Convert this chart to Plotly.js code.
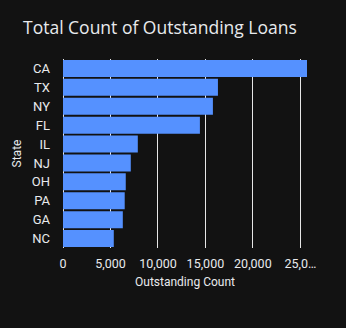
<!DOCTYPE html>
<html>
<head>
<meta charset="utf-8">
<script src="https://cdn.plot.ly/plotly-3.0.1.min.js"></script>
<style>
html,body{margin:0;padding:0;background:#121212;}
#chart{width:346px;height:328px;}
</style>
</head>
<body>
<div id="chart"></div>
<script>
const states = ['CA','TX','NY','FL','IL','NJ','OH','PA','GA','NC'];
const outstandingCount = [25700, 16320, 15790, 14420, 7880, 7140, 6610, 6500, 6300, 5350];
const xTickVals = [0, 5000, 10000, 15000, 20000, 25000];
const xTickText = ['0', '5,000', '10,000', '15,000', '20,000', '25,0…'];

const trace = {
  type: 'bar',
  orientation: 'h',
  y: states,
  x: outstandingCount,
  marker: {color: '#5591ff'},
  hoverinfo: 'x+y'
};

const layout = {
  width: 346,
  height: 328,
  paper_bgcolor: '#121212',
  plot_bgcolor: '#121212',
  margin: {l: 63, r: 39, t: 59, b: 80},
  bargap: 0.1,
  showlegend: false,
  font: {family: 'Roboto, sans-serif', color: '#e8eaed', size: 12},
  title: {
    text: 'Total Count of Outstanding Loans',
    x: 23/346, xanchor: 'left',
    y: 1 - 28/328, yanchor: 'middle',
    font: {family: 'Open Sans, sans-serif', size: 17.5, color: '#e8eaed'}
  },
  xaxis: {
    range: [0, 25700],
    tickvals: xTickVals,
    ticktext: xTickText,
    showgrid: true,
    gridcolor: '#e6e6e6',
    gridwidth: 1,
    zeroline: true,
    zerolinecolor: '#e6e6e6',
    zerolinewidth: 1,
    showline: false,
    ticks: '',
    ticklabelstandoff: 6,
    tickfont: {size: 12.5, color: '#e8eaed'},
    title: {text: 'Outstanding Count', font: {size: 12, color: '#e8eaed'}, standoff: 8}
  },
  yaxis: {
    autorange: 'reversed',
    type: 'category',
    showgrid: false,
    zeroline: false,
    ticks: '',
    ticklabelstandoff: 12,
    tickfont: {size: 13, color: '#e8eaed'},
    title: {text: 'State', font: {size: 12, color: '#e8eaed'}, standoff: 7}
  }
};

Plotly.newPlot('chart', [trace], layout, {displayModeBar: false, staticPlot: true});
</script>
</body>
</html>
